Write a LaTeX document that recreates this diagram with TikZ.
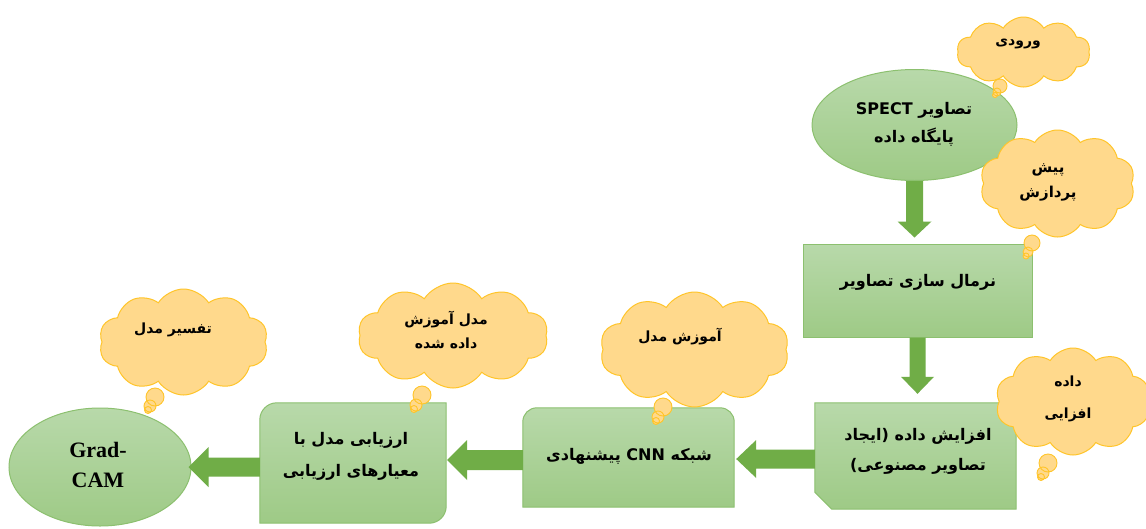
\documentclass[tikz,border=0pt]{standalone}
\usepackage{fontspec}
\TeXXeTstate=1
\newfontfamily\fa[Script=Arabic]{DejaVu Sans}
\newfontfamily\tnr{Liberation Serif}
\usetikzlibrary{shapes.geometric,shapes.symbols,calc}
\definecolor{gtop}{HTML}{B8D9AA}
\definecolor{gbot}{HTML}{9ECA86}
\definecolor{gline}{HTML}{8CC06F}
\definecolor{arr}{HTML}{70AD47}
\definecolor{cfill}{HTML}{FFD98C}
\definecolor{cline}{HTML}{FFC52A}
\tikzset{
  gshape/.style={top color=gtop,bottom color=gbot,draw=gline,line width=1pt},
  cloudbox/.style={cloud,cloud puffs=10,cloud puff arc=115,cloud ignores aspect,
    fill=cfill,draw=cline,line width=1pt,inner sep=0pt},
  bubble/.style={fill=cfill,draw=cline,line width=0.9pt},
  fatxt/.style={font=\fa\bfseries\fontsize{16}{30}\selectfont,align=center,text=black,inner sep=0pt},
  cltxt/.style={font=\fa\bfseries\fontsize{14}{26}\selectfont,align=center,text=black,inner sep=0pt},
  latxt/.style={font=\tnr\bfseries\fontsize{22}{30}\selectfont,align=center,text=black,inner sep=0pt},
  blk/.style={fill=arr,draw=none},
  ghost/.style={draw=none,fill=none,rectangle,inner sep=0pt}
}
% vertical block arrow: start, tip, shaft half width, head half width, head length
\newcommand\varrowblk[5]{%
  \fill[blk] ($(#1)+(-#3,0)$) -- ($(#2)+(-#3,-#5)$) -- ($(#2)+(-#4,-#5)$) -- (#2)
    -- ($(#2)+(#4,-#5)$) -- ($(#2)+(#3,-#5)$) -- ($(#1)+(#3,0)$) -- cycle;}
% leftward block arrow: start (right), tip (left)
\newcommand\harrowblk[5]{%
  \fill[blk] ($(#1)+(0,-#3)$) -- ($(#2)+(#5,-#3)$) -- ($(#2)+(#5,-#4)$) -- (#2)
    -- ($(#2)+(#5,#4)$) -- ($(#2)+(#5,#3)$) -- ($(#1)+(0,#3)$) -- cycle;}
\begin{document}
\begin{tikzpicture}[x=1pt,y=-1pt]
\clip (0,0) rectangle (1146,528);
\fill[white] (0,0) rectangle (1146,528);

% green shapes
\node[ellipse,gshape,minimum width=205pt,minimum height=111pt,inner sep=0pt] (e1) at (914.5,125) {};
\node[rectangle,gshape,minimum width=229pt,minimum height=93pt,inner sep=0pt] (r1) at (917.5,290.5) {};
\node[ghost,minimum width=201pt,minimum height=106pt] (r2) at (915.5,456) {};
\draw[gshape] ($(r2.south west)+(0,-17)$) -- (r2.north west) -- (r2.north east) -- (r2.south east) -- ($(r2.south west)+(17,0)$) -- cycle;
\node[ghost,minimum width=211pt,minimum height=99pt] (cnn) at (628.5,457.5) {};
\draw[gshape] (cnn.south west) [rounded corners=14pt] -- (cnn.north west) -- (cnn.north east) [sharp corners] -- (cnn.south east) -- cycle;
\node[ghost,minimum width=186pt,minimum height=120pt] (b9) at (353,463) {};
\draw[gshape] (b9.south west) [rounded corners=17pt] -- (b9.north west) [sharp corners] -- (b9.north east) [rounded corners=17pt] -- (b9.south east) [sharp corners] -- cycle;
\node[ellipse,gshape,minimum width=182pt,minimum height=118pt,inner sep=0pt] (gc) at (100,467) {};

% texts in shapes
\node[fatxt,font=\fa\bfseries\fontsize{16}{28}\selectfont] (t1) at (914,124) {\beginR تصاویر SPECT\endR\\\beginR پایگاه داده\endR};
\node[fatxt] (t2) at (918,282) {\beginR نرمال سازی تصاویر\endR};
\node[fatxt] (t3) at (918,451) {\beginR افزایش داده (ایجاد\endR\\\beginR تصاویر مصنوعی)\endR};
\node[fatxt] (t4) at (629,456) {\beginR شبکه CNN پیشنهادی\endR};
\node[fatxt,font=\fa\bfseries\fontsize{16}{32}\selectfont] (t5) at (351,456) {\beginR ارزیابی مدل با\endR\\\beginR معیارهای ارزیابی\endR};
\node[latxt] (t6) at (98,465) {Grad-\\CAM};

% block arrows
\coordinate (a1s) at (e1.south);
\coordinate (a1t) at ($(e1.south |- r1.north)+(0,-6)$);
\varrowblk{a1s}{a1t}{8.5}{17}{16}
\coordinate (a2s) at (r1.south);
\coordinate (a2t) at ($(r1.south |- r2.north)+(0,-9)$);
\varrowblk{a2s}{a2t}{8}{16.5}{17}
\coordinate (a3s) at ($(r2.west)+(0,3)$);
\coordinate (a3t) at ($(cnn.east |- a3s)+(2,0)$);
\harrowblk{a3s}{a3t}{9.5}{19}{20}
\coordinate (a4s) at ($(cnn.west)+(0,2.5)$);
\coordinate (a4t) at ($(b9.east |- a4s)+(1,0)$);
\harrowblk{a4s}{a4t}{10}{20}{20}
\coordinate (a5s) at ($(b9.west)+(0,4)$);
\coordinate (a5t) at ($(gc.east |- a5s)+(-3,0)$);
\harrowblk{a5s}{a5t}{9.5}{20}{20}

% clouds
\node[cloudbox,minimum width=133pt,minimum height=70pt] (c1) at (1023.5,52) {};
\draw[bubble] (1000,86) circle (7pt) (997,92) circle (4pt) (995,95) circle (2.5pt);
\node[cltxt] (ct1) at (1018,44) {\beginR ورودی\endR};

\node[cloudbox,minimum width=155pt,minimum height=107pt] (c2) at (1057.5,183.5) {};
\draw[bubble] (1032,243) circle (8pt) (1028,252) circle (5pt) (1026,256) circle (3pt);
\node[cltxt,font=\fa\bfseries\fontsize{15}{25}\selectfont] (ct2) at (1048,182) {\beginR پیش\endR\\\beginR پردازش\endR};

\node[cloudbox,minimum width=155pt,minimum height=107pt] (c3) at (1073,401.5) {};
\draw[bubble] (1048,463) circle (9pt) (1043,473) circle (6pt) (1041,477) circle (3.5pt);
\node[cltxt,font=\fa\bfseries\fontsize{14}{32}\selectfont] (ct3) at (1068,399) {\beginR داده\endR\\\beginR افزایی\endR};

\node[cloudbox,minimum width=189pt,minimum height=115pt] (c4) at (694.5,349.5) {};
\draw[bubble] (663,407) circle (9pt) (658,417) circle (6pt) (656,421) circle (3.5pt);
\node[cltxt] (ct4) at (680,337) {\beginR آموزش مدل\endR};

\node[cloudbox,minimum width=190pt,minimum height=105pt] (c5) at (453,335.5) {};
\draw[bubble] (422,395) circle (9pt) (416,405) circle (6pt) (414,409) circle (3.5pt);
\node[cltxt,font=\fa\bfseries\fontsize{14}{24}\selectfont] (ct5) at (446,330) {\beginR مدل آموزش\endR\\\beginR داده شده\endR};

\node[cloudbox,minimum width=169pt,minimum height=106pt] (c6) at (183.5,342) {};
\draw[bubble] (155,397) circle (9pt) (150,406) circle (6pt) (148,410) circle (3.5pt);
\node[cltxt] (ct6) at (173,330) {\beginR تفسیر مدل\endR};
\end{tikzpicture}
\end{document}
